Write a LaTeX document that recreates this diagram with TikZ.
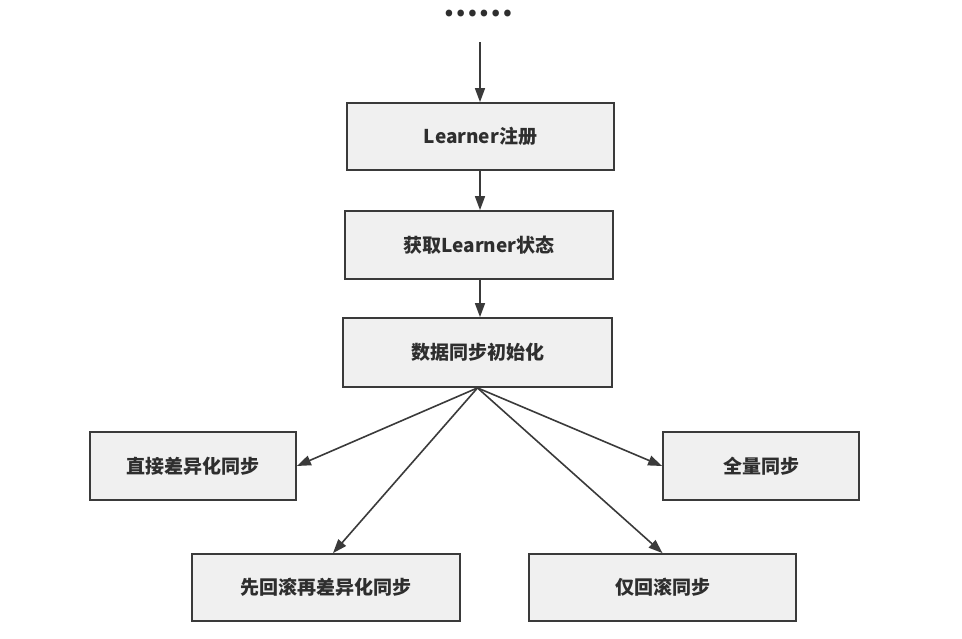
\documentclass[tikz,border=0pt]{standalone}
\usepackage{fontspec}
\setmainfont{Noto Sans CJK SC}
\usetikzlibrary{arrows.meta}
\definecolor{boxfill}{HTML}{F0F0F0}
\definecolor{edge}{HTML}{3A3A3A}
\definecolor{txt}{HTML}{2E2E2E}
\begin{document}
\begin{tikzpicture}[x=1pt,y=-1pt,
  flowbox/.style={draw=edge,line width=1.8pt,fill=boxfill,rectangle,inner sep=0pt,
    text=txt,font=\fontsize{19}{22}\selectfont\bfseries},
  flowarrow/.style={draw=edge,line width=1.6pt,-{Triangle[length=14pt,width=10pt]}}]
\useasboundingbox (0,0) rectangle (962,638);
\node[text=txt,font=\fontsize{31}{34}\selectfont\bfseries,inner sep=0pt,anchor=base,
  text height=6pt,text depth=1pt] (dots) at (478,16) {……};
\coordinate (top) at (480,42);
\node[flowbox,minimum width=267pt,minimum height=67pt] (b1) at (480.5,136.5) {Learner注册};
\node[flowbox,minimum width=268pt,minimum height=68pt] (b2) at (479,245) {获取Learner状态};
\node[flowbox,minimum width=269pt,minimum height=69pt] (b3) at (477.5,352.5) {数据同步初始化};
\node[flowbox,minimum width=206pt,minimum height=68pt] (b4) at (193,466) {直接差异化同步};
\node[flowbox,minimum width=196pt,minimum height=68pt] (b5) at (761,466) {全量同步};
\node[flowbox,minimum width=268pt,minimum height=67pt] (b6) at (326,587.5) {先回滚再差异化同步};
\node[flowbox,minimum width=267pt,minimum height=67pt] (b7) at (662.5,587.5) {仅回滚同步};
\draw[flowarrow] (top) -- (top |- b1.north);
\draw[flowarrow] (top |- b1.south) -- (top |- b2.north);
\draw[flowarrow] (top |- b2.south) -- (top |- b3.north);
\draw[flowarrow] (b3.south) -- (b4.east);
\draw[flowarrow] (b3.south) -- ([xshift=7pt]b6.north);
\draw[flowarrow] (b3.south) -- (b5.west);
\draw[flowarrow] (b3.south) -- (b7.north);
\end{tikzpicture}
\end{document}
